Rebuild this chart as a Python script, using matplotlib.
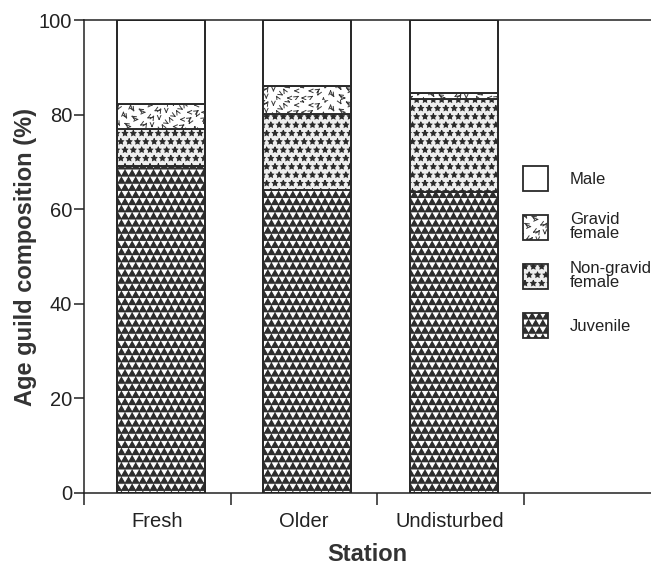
import warnings
warnings.filterwarnings("ignore")
import matplotlib
matplotlib.use("Agg")
import matplotlib.pyplot as plt
import matplotlib.hatch as mhatch
from matplotlib.path import Path
from matplotlib.patches import Patch, Rectangle
from matplotlib.legend_handler import HandlerBase
import numpy as np

stations = ["Fresh", "Older", "Undisturbed"]
juvenile = [69.2, 64.1, 63.6]
non_gravid = [7.8, 16.0, 19.8]
gravid = [5.2, 5.9, 1.1]
male = [17.8, 14.0, 15.5]
series_names = ["Juvenile", "Non-gravid\nfemale", "Gravid\nfemale", "Male"]
yticks = [0, 20, 40, 60, 80, 100]


# ---- custom hatch textures -------------------------------------------------
class TriangleHatch(mhatch.HatchPatternBase):
    """Filled downward triangles in offset rows (char 'v')."""
    size = 0.40

    def __init__(self, hatch, density):
        self.n = hatch.count('v') * 7
        if self.n == 0:
            self.num_vertices = 0
            return
        self.centers = []
        for r in range(self.n + 1):
            if r % 2 == 0:
                cols = [c / self.n for c in range(self.n + 1)]
            else:
                cols = [(c + 0.5) / self.n for c in range(self.n)]
            for cx in cols:
                self.centers.append((cx, r / self.n))
        self.num_vertices = len(self.centers) * 4

    def set_vertices_and_codes(self, vertices, codes):
        R = self.size / self.n
        ang = np.deg2rad([270, 30, 150])
        tri = np.column_stack([np.cos(ang), np.sin(ang)]) * R
        k = 0
        for cx, cy in self.centers:
            vertices[k:k + 3] = tri + [cx, cy]
            vertices[k + 3] = vertices[k]
            codes[k] = Path.MOVETO
            codes[k + 1] = Path.LINETO
            codes[k + 2] = Path.LINETO
            codes[k + 3] = Path.CLOSEPOLY
            k += 4


class VMarkHatch(mhatch.HatchPatternBase):
    """Scattered V-shaped marks at varying orientations (char 'y')."""

    def __init__(self, hatch, density):
        self.n = hatch.count('y') * 7
        self.num_vertices = self.n * self.n * 4 if self.n else 0

    def set_vertices_and_codes(self, vertices, codes):
        n = self.n
        step = 1.0 / n
        L = step * 0.6
        k = 0
        for i in range(n):
            for j in range(n):
                ang = ((i * 5 + j * 7) % 12) * (np.pi / 6)
                cx = (j + 0.5 + 0.22 * (((i + 2 * j) % 3) - 1)) * step
                cy = (i + 0.5 + 0.22 * (((2 * i + j) % 3) - 1)) * step
                for a in (ang - 0.42, ang + 0.42):
                    vertices[k] = (cx, cy)
                    vertices[k + 1] = (cx + L * np.cos(a), cy + L * np.sin(a))
                    codes[k] = Path.MOVETO
                    codes[k + 1] = Path.LINETO
                    k += 2


mhatch._hatch_types.append(TriangleHatch)
mhatch._hatch_types.append(VMarkHatch)

plt.rcParams['font.family'] = ['Liberation Sans', 'DejaVu Sans']
plt.rcParams['hatch.linewidth'] = 0.7

fig = plt.figure(figsize=(6.51, 5.65), dpi=100)
ax = fig.add_axes([84/651, 72/565, 1 - 84/651, (493-20)/565])

dark = '#2a2a2a'
styles = [
    dict(facecolor='#2e2e2e', hatch='vv', edgecolor='white'),
    dict(facecolor='#eeeeee', hatch='**', edgecolor='#2a2a2a'),
    dict(facecolor='white', hatch='yy', edgecolor='#3a3a3a'),
    dict(facecolor='white', hatch=None, edgecolor=dark),
]
data = [juvenile, non_gravid, gravid, male]
x = np.arange(len(stations)) + 0.025
bottom = np.zeros(len(stations))
for i, (vals, st) in enumerate(zip(data, styles)):
    ax.bar(x, vals, width=0.6, bottom=bottom, linewidth=1.2 if i else 0, **st)
    # segment boundary lines
    ax.bar(x, vals, width=0.6, bottom=bottom, facecolor='none',
           edgecolor=dark, linewidth=1.2)
    bottom += np.array(vals)
ax.bar(x, bottom, width=0.6, facecolor='none', edgecolor=dark, linewidth=1.4)

ax.set_xlim(-0.5, -0.5 + (651 - 84) / 146.5)
ax.set_ylim(0, 100)
ax.spines['right'].set_visible(False)
for s in ['left', 'top', 'bottom']:
    ax.spines[s].set_linewidth(1.1)
    ax.spines[s].set_color('#222222')

ax.set_yticks(yticks)
ax.set_yticklabels([str(v) for v in yticks])
ax.tick_params(axis='y', which='major', direction='out', length=7.5, width=1.1,
               pad=1.0, labelsize=14.5, colors='#222222')

ax.set_xticks([-0.5, 0.5, 1.5, 2.5])
ax.set_xticklabels([])
ax.tick_params(axis='x', which='major', direction='out', length=8.5, width=1.1,
               colors='#222222')
ax.set_xticks(np.arange(len(stations)), minor=True)
ax.set_xticklabels(stations, minor=True)
ax.tick_params(axis='x', which='minor', length=0, pad=14, labelsize=14.5,
               labelcolor='#222222')

ax.set_ylabel("Age guild composition (%)", fontsize=17, fontweight='bold',
              color='#333333', labelpad=1)
ax.set_xlabel("Station", fontsize=17, fontweight='bold', color='#333333',
              labelpad=8)


class BoxHandler(HandlerBase):
    box = 18.0  # points

    def create_artists(self, legend, orig_handle, xdescent, ydescent,
                       width, height, fontsize, trans):
        b = self.box
        x0 = -xdescent + (width - b) / 2
        y0 = -ydescent + (height - b) / 2
        fill = Rectangle((x0, y0), b, b, facecolor=orig_handle.get_facecolor(),
                         edgecolor=orig_handle.get_edgecolor(),
                         hatch=orig_handle.get_hatch(), linewidth=0,
                         transform=trans)
        outline = Rectangle((x0, y0), b, b, facecolor='none', edgecolor=dark,
                            linewidth=1.3, transform=trans)
        return [fill, outline]


handles = [Patch(**styles[3]), Patch(**styles[2]), Patch(**styles[1]),
           Patch(**styles[0])]
labels = [series_names[3], series_names[2], series_names[1], series_names[0]]
leg = ax.legend(handles, labels, loc='upper left',
                handler_map={Patch: BoxHandler()},
                bbox_to_anchor=(523/651, 1 - 158/565), bbox_transform=fig.transFigure,
                frameon=False, fontsize=12, handlelength=1.5, handleheight=3.47,
                handletextpad=1.3, labelspacing=0.44, borderpad=0, borderaxespad=0)
for t in leg.get_texts():
    t.set_linespacing(0.95)
    t.set_color('#222222')

fig.savefig("out.png", dpi=100)
